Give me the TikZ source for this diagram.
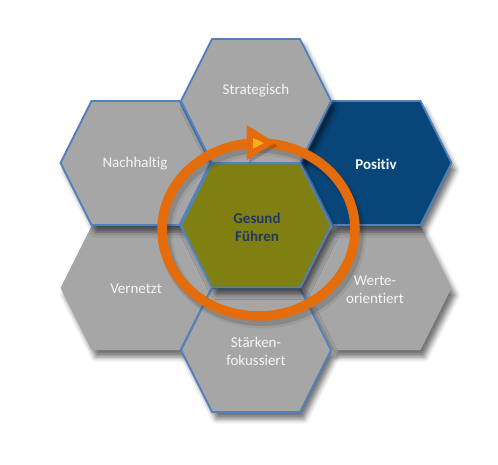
\documentclass[tikz,border=0pt]{standalone}
\usepackage{fontspec}
\setmainfont{Carlito}[Ligatures=NoCommon]
\usetikzlibrary{shadows.blur}
\definecolor{hexgray}{HTML}{A6A6A6}
\definecolor{hexnavy}{HTML}{08467A}
\definecolor{hexolive}{HTML}{807F12}
\definecolor{hexline}{HTML}{4F81BD}
\definecolor{ringorange}{HTML}{E46C0A}
\definecolor{arrowyellow}{HTML}{F5B21C}
\definecolor{textnavy}{HTML}{1F3864}
\definecolor{textwhite}{HTML}{F6F6F6}
\newcommand{\hexat}[3]{%
  \path[#1] (#2,#3) ++(-75,0) -- ++(31,-62) -- ++(88,0) -- ++(31,62) -- ++(-31,62) -- ++(-88,0) -- cycle;}
\tikzset{
  hexshape/.style={blur shadow={shadow xshift=4bp, shadow yshift=-7bp, shadow blur radius=5bp, shadow opacity=55}},
  grayhex/.style={hexshape, fill=hexgray},
  outlined/.style={draw=hexline, line width=1.8bp, line join=miter},
  hexlabel/.style={text=textwhite, font=\fontsize{15}{18}\selectfont, align=center, inner sep=0pt},
  boldlabel/.style={hexlabel, font=\fontsize{15}{18}\selectfont\bfseries},
  ringline/.style={draw=ringorange, line width=9.5bp},
  ringshadow/.style={draw=black, line width=11bp, opacity=0.12},
}
\begin{document}
\begin{tikzpicture}[x=1bp, y=-1bp]
\useasboundingbox (0,0) rectangle (498,465);
% hexagons (back to front)
\hexat{grayhex}{376.5}{288}
\hexat{grayhex}{135.5}{288}
\hexat{grayhex, outlined}{256}{350}
\hexat{grayhex, outlined}{135.5}{163}
\hexat{hexshape, fill=hexnavy, outlined}{376.5}{163}
\hexat{grayhex, outlined}{256}{101}
\hexat{hexshape, fill=hexolive, outlined}{256}{225.5}
% ring with shadow
\draw[ringshadow] (261.5,234) ellipse [x radius=96.5bp, y radius=86.5bp];
\draw[ringshadow, line width=14bp, opacity=0.06] (262.5,235) ellipse [x radius=96.5bp, y radius=86.5bp];
\draw[ringline] (258.5,229.5) ellipse [x radius=96.5bp, y radius=86.5bp];
% arrowhead
\fill[black, opacity=0.18] (249.2,128) -- (277.5,145.7) -- (249.2,163) -- cycle;
\fill[ringorange] (246.7,125) -- (275,142.7) -- (246.7,160) -- cycle;
\fill[arrowyellow] (253,137.8) -- (263.8,143.2) -- (253,148.6) -- cycle;
% labels
\node[hexlabel] (strategisch) at (256,91) {Strategisch};
\node[hexlabel] (nachhaltig) at (135,164) {Nachhaltig};
\node[boldlabel] (positiv) at (376,164) {Positiv};
\node[hexlabel] (vernetzt) at (136,289) {Vernetzt};
\node[hexlabel] (werte) at (375,290) {Werte-\\orientiert};
\node[hexlabel] (staerken) at (256,351) {Stärken-\\fokussiert};
\node[boldlabel, text=textnavy] (gesund) at (257,227.5) {Gesund\\Führen};
\end{tikzpicture}
\end{document}
